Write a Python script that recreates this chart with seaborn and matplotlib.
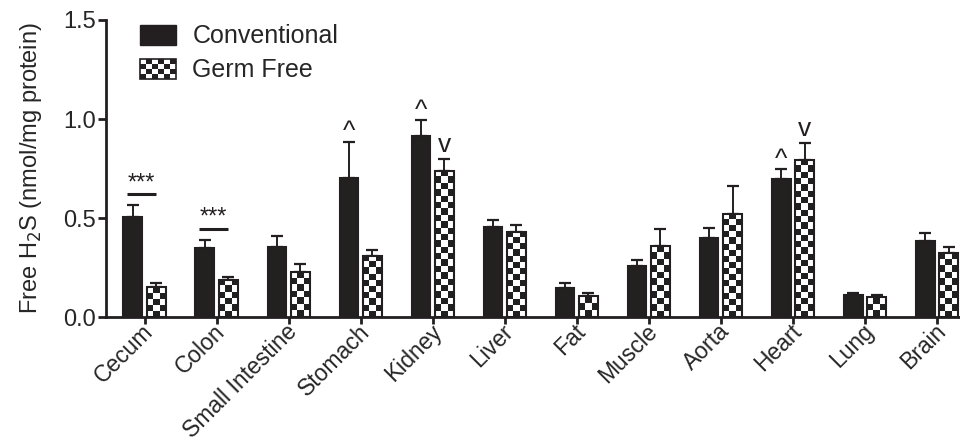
import numpy as np
import pandas as pd
import seaborn as sns
import matplotlib.pyplot as plt
import matplotlib.transforms as mtransforms
from matplotlib.patches import Rectangle
from matplotlib.legend_handler import HandlerBase

tissues = ['Cecum', 'Colon', 'Small Intestine', 'Stomach', 'Kidney', 'Liver',
           'Fat', 'Muscle', 'Aorta', 'Heart', 'Lung', 'Brain']
conventional = [0.505, 0.35, 0.355, 0.70, 0.915, 0.455, 0.145, 0.257, 0.40, 0.697, 0.11, 0.383]
conventional_sem = [0.06, 0.04, 0.055, 0.185, 0.08, 0.035, 0.025, 0.03, 0.05, 0.05, 0.012, 0.04]
germ_free = [0.15, 0.19, 0.23, 0.31, 0.74, 0.43, 0.105, 0.358, 0.52, 0.793, 0.10, 0.323]
germ_free_sem = [0.02, 0.015, 0.04, 0.03, 0.06, 0.035, 0.018, 0.086, 0.14, 0.087, 0.01, 0.03]

# significance marks: (tissue, group, symbol)
marks = [('Stomach', 0, '^'), ('Kidney', 0, '^'), ('Kidney', 1, 'v'),
         ('Heart', 0, '^'), ('Heart', 1, 'v')]
star_tissues = ['Cecum', 'Colon']

DARK = '#231f20'

df = pd.DataFrame({
    'tissue': tissues * 2,
    'group': ['Conventional'] * len(tissues) + ['Germ Free'] * len(tissues),
    'value': conventional + germ_free,
})

sns.set_style('ticks')
plt.rcParams['font.family'] = ['Liberation Sans', 'DejaVu Sans']

fig = plt.figure(figsize=(9.6, 4.43), dpi=100)
ax = fig.add_axes([0.110, 0.284, 0.890, 0.671])

sns.barplot(data=df, x='tissue', y='value', hue='group', order=tissues,
            palette={'Conventional': DARK, 'Germ Free': 'white'},
            width=0.65, gap=0.2, errorbar=None, edgecolor=DARK,
            linewidth=1.5, legend=False, ax=ax)
bars = list(ax.containers)

ax.set_xlim(-0.54, 11.32)
ax.set_ylim(0, 1.5)

sems = [conventional_sem, germ_free_sem]
tops = [[], []]
for gi, cont in enumerate(bars):
    xs = [p.get_x() + p.get_width() / 2 for p in cont.patches]
    hs = [p.get_height() for p in cont.patches]
    ax.errorbar(xs, hs, yerr=[np.zeros(len(hs)), sems[gi]], fmt='none',
                ecolor=DARK, elinewidth=1.4, capsize=4.5, capthick=1.6, zorder=1)
    tops[gi] = [(x, h + e) for x, h, e in zip(xs, hs, sems[gi])]

# checkerboard fill for germ free bars
fig.canvas.draw()
for p in bars[1].patches:
    x0, y0, w, h = p.get_x(), p.get_y(), p.get_width(), p.get_height()
    (px0, py0), (px1, py1) = ax.transData.transform([(x0, y0), (x0 + w, y0 + h)])
    ncol = 3
    sq = (px1 - px0) / ncol
    nrow = max(1, int(round((py1 - py0) / sq)))
    board = np.indices((nrow, ncol)).sum(axis=0) % 2
    im = ax.imshow(board, cmap='gray_r', vmin=0, vmax=1.15, extent=[x0, x0 + w, y0, y0 + h],
                   aspect='auto', interpolation='nearest', origin='lower', zorder=2)
    im.set_clip_path(p)
    p.set_zorder(3)
    p.set_facecolor('none')
ax.set_xlim(-0.54, 11.32)
ax.set_ylim(0, 1.5)

# significance annotations
for t in star_tissues:
    i = tissues.index(t)
    x = bars[0].patches[i].get_x()
    y = tops[0][i][1] + 0.055
    ax.plot([x + 0.05, x + 0.45], [y, y], color=DARK, lw=2.2, solid_capstyle='butt')
    ax.text(x + 0.25, y + 0.0, '***', ha='center', va='bottom', fontsize=17, color=DARK)

for t, g, sym in marks:
    i = tissues.index(t)
    x, y = tops[g][i]
    dy = 0.012 if sym == '^' else 0.035
    ax.text(x, y + dy, sym, ha='center', va='baseline', fontsize=19, color=DARK)


class CheckerHandler(HandlerBase):
    def create_artists(self, legend, orig_handle, xdescent, ydescent, width, height, fontsize, trans):
        arts = [Rectangle((-xdescent, -ydescent), width, height, facecolor='white',
                          edgecolor=DARK, lw=1.2, transform=trans)]
        ncol, nrow = 6, 4
        cw, ch = width / ncol, height / nrow
        for r in range(nrow):
            for c in range(ncol):
                if (r + c) % 2 == 0:
                    arts.append(Rectangle((-xdescent + c * cw, -ydescent + r * ch), cw, ch,
                                          facecolor=DARK, lw=0, transform=trans))
        return arts


conv_handle = Rectangle((0, 0), 1, 1, facecolor=DARK, edgecolor=DARK)
gf_handle = Rectangle((0, 0), 1, 1, facecolor='white', edgecolor=DARK)
ax.legend([conv_handle, gf_handle], ['Conventional', 'Germ Free'],
          handler_map={gf_handle: CheckerHandler()},
          loc='upper left', bbox_to_anchor=(0.04, 0.985), frameon=False,
          fontsize=18, handlelength=1.45, handleheight=0.85,
          handletextpad=0.65, labelspacing=0.4, borderpad=0, borderaxespad=0)

ax.set_ylabel('Free H$_2$S (nmol/mg protein)', fontsize=17, labelpad=14)
ax.set_xlabel('')
ax.set_yticks([0, 0.5, 1.0, 1.5])
ax.set_yticklabels(['0.0', '0.5', '1.0', '1.5'])
ax.tick_params(axis='y', labelsize=17, length=6, width=2, pad=1, color=DARK)
ax.tick_params(axis='x', labelsize=16.5, length=5, width=2, pad=0, color=DARK)
shift = mtransforms.ScaledTranslation(-2 / 72, 3 / 72, fig.dpi_scale_trans)
for lab in ax.get_xticklabels():
    lab.set_rotation(45)
    lab.set_ha('right')
    lab.set_va('top')
    lab.set_rotation_mode('anchor')
    lab.set_transform(lab.get_transform() + shift)
sns.despine(ax=ax)
for s in ['left', 'bottom']:
    ax.spines[s].set_linewidth(2)
    ax.spines[s].set_color(DARK)

fig.savefig('out.png', dpi=100)
